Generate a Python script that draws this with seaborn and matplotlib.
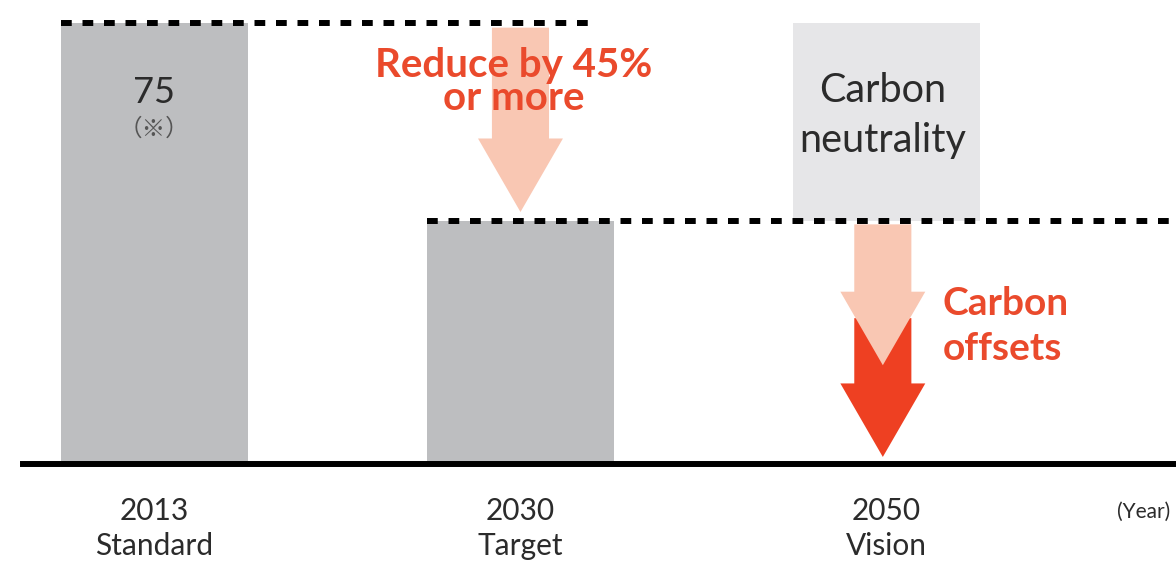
import matplotlib
matplotlib.use("Agg")
import matplotlib.pyplot as plt
from matplotlib.patches import Polygon
import seaborn as sns
import pandas as pd

# Emission milestones (index, 2013 = 75)
milestones = ["2013\nStandard", "2030\nTarget", "2050\nVision"]
emissions = [75, 41.25, 0]
base_label = "75"
note_mark = "（※）"
reduction_label = "Reduce by 45%\nor more"
neutral_label = ["Carbon", "neutrality"]
offset_label = ["Carbon", "offsets"]
unit_label = "(Year)"

BAR_GRAY = "#bdbec0"
BOX_GRAY = "#e6e6e8"
PINK = "#f9c7b3"
RED = "#ee4022"
RED_TEXT = "#ea4a2c"
INK = "#2b2b2b"
BAR_W = 0.511

sns.set_theme(style="white")
plt.rcParams["font.family"] = ["Lato", "DejaVu Sans"]

fig = plt.figure(figsize=(11.76, 5.61), dpi=100)
ax = fig.add_axes([0, 0.1729, 1, 0.8271])

df = pd.DataFrame({"milestone": milestones, "emissions": emissions})
sns.barplot(data=df, x="milestone", y="emissions", width=BAR_W, color=BAR_GRAY,
            saturation=1, linewidth=0, ax=ax, zorder=2)

ax.set_xlim(-0.422, 2.791)
ax.set_ylim(0, 78.9)
ax.set_xlabel("")
ax.set_ylabel("")
ax.set_yticks([])
for side in ("left", "right", "top"):
    ax.spines[side].set_visible(False)
ax.spines["bottom"].set_color("black")
ax.spines["bottom"].set_linewidth(4.3)
ax.spines["bottom"].set_bounds(-0.359, 2.791)
ax.spines["bottom"].set_zorder(5)
ax.tick_params(axis="x", length=0, pad=24, labelsize=21.5, labelcolor=INK)
for lab in ax.get_xticklabels():
    lab.set_linespacing(1.3)

# Carbon-neutral vision box spanning the remaining gap above the 2030 target
ax.bar(2, emissions[0] - emissions[1], bottom=emissions[1], width=BAR_W,
       color=BOX_GRAY, linewidth=0, zorder=1)

# Reference levels
dash = (0, (1.8, 1.8))
ax.hlines(emissions[0], 0 - BAR_W / 2, 1.212, colors="black", linestyles=dash,
          linewidth=4.3, zorder=4)
ax.hlines(emissions[1], 1 - BAR_W / 2, 2.791, colors="black", linestyles=dash,
          linewidth=4.3, zorder=4)


def down_arrow(x, top, tip, color, z, shaft=0.156, head=0.232, head_len=12.5):
    neck = tip + head_len
    pts = [(x - shaft / 2, top), (x + shaft / 2, top), (x + shaft / 2, neck),
           (x + head / 2, neck), (x, tip), (x - head / 2, neck),
           (x - shaft / 2, neck)]
    ax.add_patch(Polygon(pts, closed=True, facecolor=color, edgecolor="none",
                         zorder=z))


down_arrow(1.0, emissions[0] - 0.8, emissions[1] + 1.6, PINK, 3)
down_arrow(1.99, 24.8, emissions[2] + 1.2, RED, 3)
down_arrow(1.99, emissions[1] - 0.5, 16.8, PINK, 3.5)

# Labels
ax.text(0, 61.4, base_label, ha="center", va="baseline", fontsize=26, color=INK, zorder=6)
ax.text(0, 57.0, note_mark, ha="center", va="center", fontsize=17, color="#555555",
        family=["Noto Sans CJK JP", "DejaVu Sans"], zorder=6)

# baseline alignment of a multi-line text refers to its last line
ax.text(0.982, 60.2, reduction_label, ha="center", va="baseline",
        multialignment="center", linespacing=0.86, fontsize=29,
        fontweight="bold", color=RED_TEXT, zorder=6)

ax.text(1.99, 61.6, neutral_label[0], ha="center", va="baseline", fontsize=28.5,
        color=INK, zorder=6)
ax.text(1.99, 53.1, neutral_label[1], ha="center", va="baseline", fontsize=28.5,
        color=INK, zorder=6)

ax.text(2.154, 25.3, offset_label[0], ha="left", va="baseline", fontsize=28,
        fontweight="bold", color=RED_TEXT, zorder=6)
ax.text(2.154, 17.6, offset_label[1], ha="left", va="baseline", fontsize=28,
        fontweight="bold", color=RED_TEXT, zorder=6)

ax.text(2.703, -8.16, unit_label, ha="center", va="center", fontsize=15,
        color=INK, clip_on=False)

fig.savefig("out.png", dpi=100)
